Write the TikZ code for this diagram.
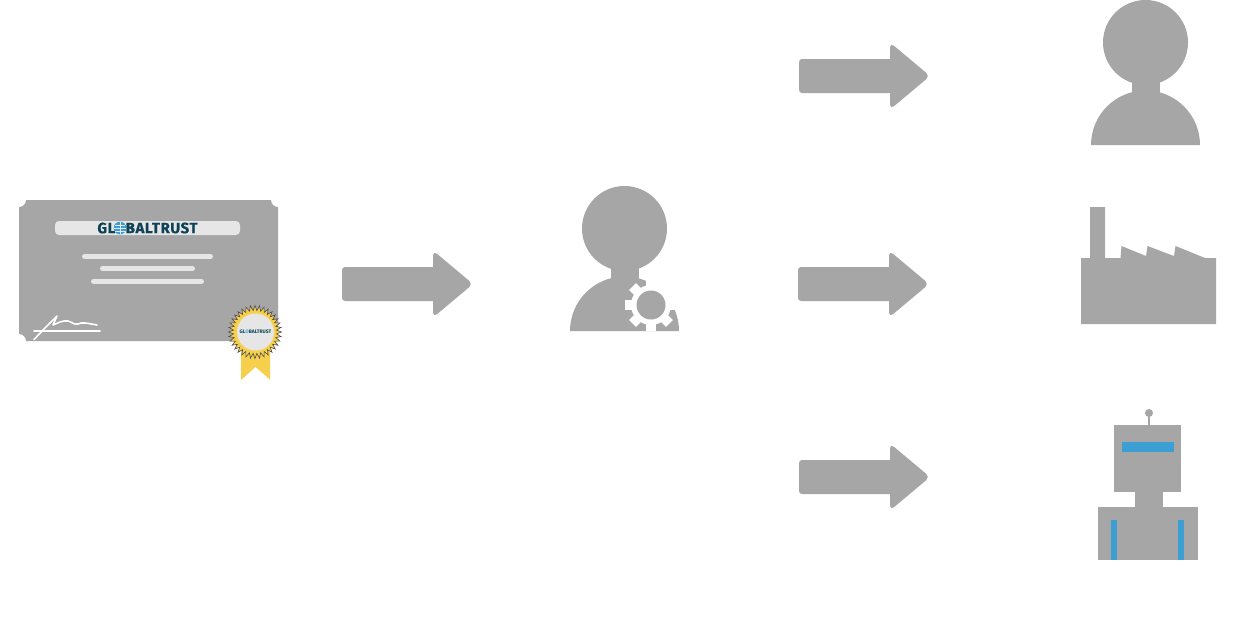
\documentclass[tikz,border=0pt]{standalone}
\usepackage{fontspec}
\setmainfont{Fira Sans}
\definecolor{greyfill}{HTML}{A6A6A6}
\definecolor{pale}{HTML}{E6E6E6}
\definecolor{deepteal}{HTML}{0E4256}
\definecolor{sky}{HTML}{3C9ED3}
\definecolor{gold}{HTML}{F6D04D}
\tikzset{
  paper line/.style={line width=5pt,line cap=round,draw=pale},
  ink/.style={draw=white,line cap=round,line join=round},
  blockarrow/.pic={
    \fill[greyfill,rounded corners=3pt] (0,-17) rectangle (96,17);
    \fill[greyfill,rounded corners=5pt] (91,-33.5) -- (131,0) -- (91,33.5) -- cycle;
  },
  person/.pic={
    \fill[greyfill] (0,0) circle[radius=42.5pt];
    \fill[greyfill] (-14,30) rectangle (14.5,60);
    \fill[greyfill] (-54.5,102.5) arc[start angle=180,end angle=0,radius=54.5pt] -- cycle;
  }
}
\begin{document}
\begin{tikzpicture}[x=1pt,y=-1pt]
\useasboundingbox (0,0) rectangle (1242,616);
\fill[white] (0,0) rectangle (1242,616);
% certificate
\fill[greyfill] (19,207) arc[start angle=-90,end angle=0,radius=7pt] -- (271,200) arc[start angle=180,end angle=270,radius=7pt]
  -- (278,334) arc[start angle=90,end angle=180,radius=7pt] -- (26,341) arc[start angle=0,end angle=90,radius=7pt] -- cycle;
\fill[pale,rounded corners=4pt] (55,221) rectangle (240,235);
\node[inner sep=0pt,text=deepteal,font=\fontsize{15}{15}\selectfont\bfseries\addfontfeature{LetterSpace=4,FakeBold=0.6}] (logo) at (147.5,228) {GL\textcolor{sky}{O}BALTRUST};
\fill[sky] (120,228) circle[radius=6.3pt];
\draw[pale,line width=.3pt] (114,228) -- (126,228) (120,222) -- (120,234) (115,225) -- (125,225) (115,231) -- (125,231);
\draw[paper line] (84.5,256.5) -- (210.5,256.5);
\draw[paper line] (102.5,268.5) -- (192.5,268.5);
\draw[paper line] (93.5,281.5) -- (201.5,281.5);
\draw[ink,line width=1.5pt] (34,331) -- (100,331);
\draw[ink,line width=1.6pt] (34,339.5) -- (46,327) -- (57,316) -- (53,325) .. controls (58,323) and (63,320) .. (68,321) .. controls (72,322) and (74,325) .. (78,324) .. controls (82,322) and (86,323) .. (97,325);
% seal
\fill[gold] (241,350) -- (270,350) -- (270,379.5) -- (255.5,367) -- (241,380) -- cycle;
\filldraw[fill=gold,draw=black!70,line width=.6pt] (281.5,332)
  \foreach \a in {10,20,...,360} { -- ({255+21.5*cos(\a-5)},{332+21.5*sin(\a-5)}) -- ({255+26.5*cos(\a)},{332+26.5*sin(\a)}) } -- cycle;
\fill[pale] (255.5,332) circle[radius=18.5pt];
\node[inner sep=0pt,text=deepteal,font=\fontsize{5}{5}\selectfont\bfseries] (seal) at (255.5,332) {GL\textcolor{sky}{O}BALTRUST};
% arrows
\pic at (342,284) {blockarrow};
\pic at (799,76) {blockarrow};
\pic at (798,284) {blockarrow};
\pic at (799,477) {blockarrow};
% people
\pic at (624.5,228.5) {person};
\pic at (1145.5,42.5) {person};
% gear
\fill[white] (651,305) circle[radius=20pt];
\foreach \a in {0,45,...,315}
  \fill[white,rotate around={\a:(651,305)}] (646.2,279) rectangle (655.8,300);
\fill[greyfill] (651,305) circle[radius=14.5pt];
% factory
\fill[greyfill] (1081,258) -- (1090,258) -- (1090,207) -- (1105,207) -- (1105,258) -- (1120.5,258) -- (1121.5,246) -- (1146,256) -- (1147.5,246) -- (1174,256) -- (1175.5,246) -- (1205,258) -- (1216,258) -- (1216,324) -- (1081,324) -- cycle;
% robot
\fill[greyfill] (1149,413) circle[radius=4pt];
\fill[greyfill] (1148,413) rectangle (1150,425);
\fill[greyfill] (1114,425) rectangle (1181,492);
\fill[greyfill] (1135,492) rectangle (1163,507);
\fill[greyfill] (1098,507) rectangle (1198,560);
\fill[sky] (1122,442) rectangle (1174,452);
\fill[sky] (1111,520) rectangle (1117,560);
\fill[sky] (1178,520) rectangle (1184,560);
\end{tikzpicture}
\end{document}
